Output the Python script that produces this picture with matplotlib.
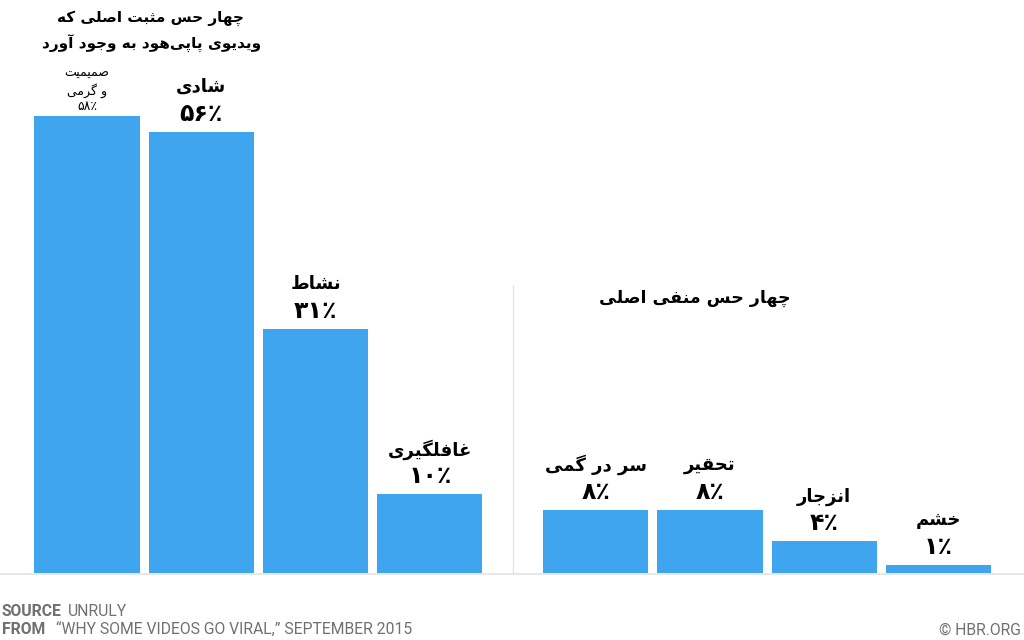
import matplotlib
matplotlib.use("Agg")
import matplotlib.pyplot as plt

# ---------------- data ----------------
pos_names = ["صمیمیت و گرمی", "شادی", "نشاط", "غافلگیری"]
pos_values = [58, 56, 31, 10]
neg_names = ["سر در گمی", "تحقیر", "انزجار", "خشم"]
neg_values = [8, 8, 4, 1]
title_pos = ["چهار حس مثبت اصلی که", "ویدیوی پاپی\u200cهود به وجود آورد"]
title_neg = "چهار حس منفی اصلی"

# ------------- simple Persian shaper -------------
F = {
    '\u0622': ('\uFE81', '\uFE82', None, None),
    '\u0627': ('\uFE8D', '\uFE8E', None, None),
    '\u0628': ('\uFE8F', '\uFE90', '\uFE91', '\uFE92'),
    '\u067E': ('\uFB56', '\uFB57', '\uFB58', '\uFB59'),
    '\u062A': ('\uFE95', '\uFE96', '\uFE97', '\uFE98'),
    '\u062B': ('\uFE99', '\uFE9A', '\uFE9B', '\uFE9C'),
    '\u062C': ('\uFE9D', '\uFE9E', '\uFE9F', '\uFEA0'),
    '\u0686': ('\uFB7A', '\uFB7B', '\uFB7C', '\uFB7D'),
    '\u062D': ('\uFEA1', '\uFEA2', '\uFEA3', '\uFEA4'),
    '\u062E': ('\uFEA5', '\uFEA6', '\uFEA7', '\uFEA8'),
    '\u062F': ('\uFEA9', '\uFEAA', None, None),
    '\u0630': ('\uFEAB', '\uFEAC', None, None),
    '\u0631': ('\uFEAD', '\uFEAE', None, None),
    '\u0632': ('\uFEAF', '\uFEB0', None, None),
    '\u0698': ('\uFB8A', '\uFB8B', None, None),
    '\u0633': ('\uFEB1', '\uFEB2', '\uFEB3', '\uFEB4'),
    '\u0634': ('\uFEB5', '\uFEB6', '\uFEB7', '\uFEB8'),
    '\u0635': ('\uFEB9', '\uFEBA', '\uFEBB', '\uFEBC'),
    '\u0636': ('\uFEBD', '\uFEBE', '\uFEBF', '\uFEC0'),
    '\u0637': ('\uFEC1', '\uFEC2', '\uFEC3', '\uFEC4'),
    '\u0638': ('\uFEC5', '\uFEC6', '\uFEC7', '\uFEC8'),
    '\u0639': ('\uFEC9', '\uFECA', '\uFECB', '\uFECC'),
    '\u063A': ('\uFECD', '\uFECE', '\uFECF', '\uFED0'),
    '\u0641': ('\uFED1', '\uFED2', '\uFED3', '\uFED4'),
    '\u0642': ('\uFED5', '\uFED6', '\uFED7', '\uFED8'),
    '\u06A9': ('\uFB8E', '\uFB8F', '\uFB90', '\uFB91'),
    '\u06AF': ('\uFB92', '\uFB93', '\uFB94', '\uFB95'),
    '\u0644': ('\uFEDD', '\uFEDE', '\uFEDF', '\uFEE0'),
    '\u0645': ('\uFEE1', '\uFEE2', '\uFEE3', '\uFEE4'),
    '\u0646': ('\uFEE5', '\uFEE6', '\uFEE7', '\uFEE8'),
    '\u0647': ('\uFEE9', '\uFEEA', '\uFEEB', '\uFEEC'),
    '\u0648': ('\uFEED', '\uFEEE', None, None),
    '\u06CC': ('\uFBFC', '\uFBFD', '\uFBFE', '\uFBFF'),
    '\u064A': ('\uFEF1', '\uFEF2', '\uFEF3', '\uFEF4'),
}


def fa(s):
    chars = list(s)
    out = []
    i = 0
    n = len(chars)
    while i < n:
        c = chars[i]
        if c not in F:
            if c != '\u200c':
                out.append(c)
            i += 1
            continue
        prev = chars[i - 1] if i > 0 else None
        jp = prev in F and F[prev][2] is not None
        nxt = chars[i + 1] if i + 1 < n else None
        if c == '\u0644' and nxt in ('\u0627', '\u0622'):
            if nxt == '\u0627':
                out.append('\uFEFC' if jp else '\uFEFB')
            else:
                out.append('\uFEF6' if jp else '\uFEF5')
            i += 2
            continue
        jn = F[c][2] is not None and nxt in F
        iso, fin, ini, med = F[c]
        if jp and jn:
            out.append(med)
        elif jp:
            out.append(fin)
        elif jn:
            out.append(ini)
        else:
            out.append(iso)
        i += 1
    return ''.join(reversed(out))


def fa_num(v):
    digits = '۰۱۲۳۴۵۶۷۸۹'
    return ''.join(digits[int(d)] for d in str(v)) + '٪'


# ---------------- figure ----------------
W, H = 1024, 640
fig = plt.figure(figsize=(W / 100, H / 100), dpi=100)
pitch = 114.3
x0 = 87.0
ax = fig.add_axes([0, 67 / H, 1, 457 / H])
ax.set_xlim(-x0 / pitch, (W - x0) / pitch)
ax.set_ylim(0, 58)
ax.axis("off")

color = "#3fa5ee"
pos_x = [0, 1, 2, 3]
neg_x = [4.45, 5.45, 6.45, 7.45]
width = 0.92

ax.bar(pos_x, pos_values, width=width, color=color, zorder=2)
ax.bar(neg_x, neg_values, width=width, color=color, zorder=2)

# baseline and separator
fig.add_artist(plt.Line2D([0, 1], [66.5 / H, 66.5 / H], color="#e3e3e3", lw=1.2))
sep_x = (pos_x[-1] + neg_x[0]) / 2
ax.plot([sep_x, sep_x], [0, 36.5], color="#e6e6e6", lw=1, clip_on=False)

ar_font = "DejaVu Sans"
ppu = 457 / 58  # pixels per unit

for k, (x, v, name) in enumerate(zip(pos_x + neg_x, pos_values + neg_values, pos_names + neg_names)):
    if k == 0:
        # small label on first bar
        ax.text(x, v + 10 / ppu, fa_num(v), ha="center", va="center", fontsize=9,
                family=ar_font, clip_on=False)
        words = name.split(" ")
        ax.text(x, v + 25 / ppu, fa(" ".join(words[1:])), ha="center", va="center",
                fontsize=9, family=ar_font, clip_on=False)
        ax.text(x, v + 43 / ppu, fa(words[0]), ha="center", va="center",
                fontsize=9, family=ar_font, clip_on=False)
    else:
        ax.text(x, v + 18 / ppu, fa_num(v), ha="center", va="center", fontsize=17,
                fontweight="bold", family=ar_font, clip_on=False)
        ax.text(x, v + 45 / ppu, fa(name), ha="center", va="center", fontsize=13,
                fontweight="bold", family=ar_font, clip_on=False)

# titles
fig.text(150 / W, 1 - 18 / H, fa(title_pos[0]), ha="center", va="center", fontsize=11,
         fontweight="bold", family=ar_font)
fig.text(152 / W, 1 - 44 / H, fa(title_pos[1]), ha="center", va="center", fontsize=11,
         fontweight="bold", family=ar_font)
fig.text(695 / W, 1 - 298 / H, fa(title_neg), ha="center", va="center", fontsize=12.5,
         fontweight="bold", family=ar_font)

# footer
gray = "#707070"
fs = 11.3
fig.text(2 / W, 1 - 612 / H, "SOURCE", ha="left", va="center", fontsize=fs,
         fontweight="bold", color=gray, family="Roboto")
fig.text(68 / W, 1 - 612 / H, "UNRULY", ha="left", va="center", fontsize=fs,
         color=gray, family="Roboto")
fig.text(2 / W, 1 - 630 / H, "FROM", ha="left", va="center", fontsize=fs,
         fontweight="bold", color=gray, family="Roboto")
fig.text(56 / W, 1 - 630 / H, "\u201cWHY SOME VIDEOS GO VIRAL,\u201d SEPTEMBER 2015", ha="left",
         va="center", fontsize=fs, color=gray, family="Roboto")
fig.text(1021 / W, 1 - 630 / H, "\u00a9 HBR.ORG", ha="right", va="center", fontsize=fs,
         color=gray, family="Roboto")

fig.savefig("out.png", dpi=100, facecolor="white")
